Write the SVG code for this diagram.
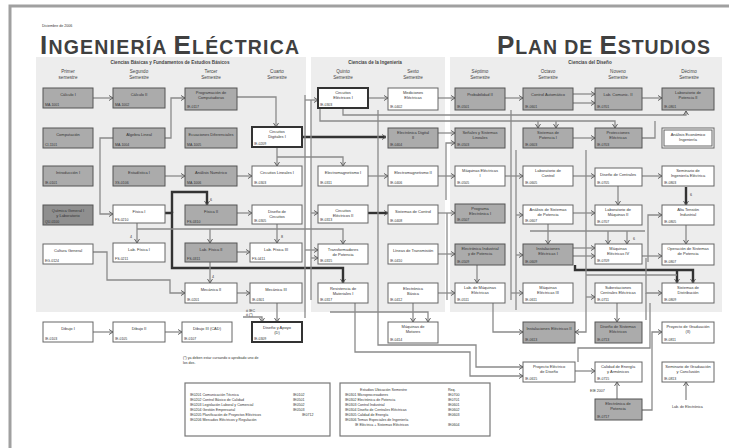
<svg xmlns="http://www.w3.org/2000/svg" width="729" height="448" viewBox="0 0 729 448">
<style>
.g rect{fill:#ababab;stroke:#555;stroke-width:1}
.w rect{fill:#fff;stroke:#666;stroke-width:1}
.k rect{fill:#fff;stroke:#333;stroke-width:2}
.tn{font-family:"Liberation Sans",Arial,sans-serif;font-size:4px;text-anchor:middle;fill:#333}
.tc{font-family:"Liberation Sans",Arial,sans-serif;font-size:3.5px;fill:#333}
.sh{font-family:"Liberation Sans",Arial,sans-serif;font-size:4.6px;text-anchor:middle;fill:#444}
.hd{font-family:"Liberation Sans",Arial,sans-serif;font-size:4.6px;font-weight:bold;text-anchor:middle;fill:#444}
.lg{font-family:"Liberation Sans",Arial,sans-serif;font-size:3.6px;fill:#333}
.c path{fill:none;stroke:#8a8a8a;stroke-width:1.3}
.c path.a{marker-end:url(#a)}
.c path.t{stroke:#333;stroke-width:2.4}
</style>
<defs>
<marker id="a" markerWidth="6" markerHeight="6" refX="5" refY="3" orient="auto" markerUnits="userSpaceOnUse"><path d="M1,0.5 L5,3 L1,5.5" fill="none" stroke="#555" stroke-width="0.9"/></marker>
</defs>
<rect x="0" y="0" width="729" height="448" fill="#fff"/>
<rect x="10" y="6" width="740" height="460" fill="#fff" stroke="#a0a0a0" stroke-width="3"/>
<rect x="36" y="57" width="270" height="255" fill="#ededed"/>
<rect x="311" y="57" width="134" height="255" fill="#ededed"/>
<rect x="450" y="57" width="272" height="255" fill="#ededed"/>
<text x="42" y="27" class="lg" font-size="4" fill="#444">Diciembre de 2006</text>
<text x="40" y="54" font-family="'Liberation Sans',Arial,sans-serif" font-weight="bold" fill="#404040" letter-spacing="1.2"><tspan font-size="26">I</tspan><tspan font-size="19.5">NGENIERÍA </tspan><tspan font-size="26">E</tspan><tspan font-size="19.5">LÉCTRICA</tspan></text>
<text x="497" y="54" font-family="'Liberation Sans',Arial,sans-serif" font-weight="bold" fill="#404040" letter-spacing="0.9"><tspan font-size="26">P</tspan><tspan font-size="19.5">LAN DE </tspan><tspan font-size="26">E</tspan><tspan font-size="19.5">STUDIOS</tspan></text>
<text x="170" y="63.5" class="hd">Ciencias Básicas y Fundamentos de Estudios Básicos</text>
<text x="375" y="63.5" class="hd">Ciencias de la Ingeniería</text>
<text x="590" y="63.5" class="hd">Ciencias del Diseño</text>
<g id="semestres">
<text x="68" y="73" class="sh">Primer<tspan x="68" dy="6">semestre</tspan></text>
<text x="139" y="73" class="sh">Segundo<tspan x="139" dy="6">Semestre</tspan></text>
<text x="211" y="73" class="sh">Tercer<tspan x="211" dy="6">Semestre</tspan></text>
<text x="277" y="73" class="sh">Cuarto<tspan x="277" dy="6">Semestre</tspan></text>
<text x="343" y="73" class="sh">Quinto<tspan x="343" dy="6">Semestre</tspan></text>
<text x="413" y="73" class="sh">Sexto<tspan x="413" dy="6">Semestre</tspan></text>
<text x="480" y="73" class="sh">Séptimo<tspan x="480" dy="6">Semestre</tspan></text>
<text x="548" y="73" class="sh">Octavo<tspan x="548" dy="6">Semestre</tspan></text>
<text x="618" y="73" class="sh">Noveno<tspan x="618" dy="6">Semestre</tspan></text>
<text x="689" y="73" class="sh">Décimo<tspan x="689" dy="6">Semestre</tspan></text>
</g>
<g id="connectors" class="c">
<path class="a" d="M93,98 H113"/>
<path class="a" d="M165,138 H171 V98 H185"/>
<path class="a" d="M237,97 H276 V127"/>
<path class="a" d="M113,138 H100 V214 H113"/>
<path class="a" d="M277,157 H343 V166"/>
<path class="a" d="M277,147 V166"/>
<path class="a" d="M165,176 H185"/>
<path class="a" d="M237,176 H252"/>
<path class="a" d="M368,98 H388"/>
<path class="a" d="M438,98 H455"/>
<path class="a" d="M505,98 H523"/>
<path class="a" d="M573,94 H595"/>
<path class="a" d="M573,103 H595"/>
<path class="a" d="M642,98 H662"/>
<path class="t a" d="M302,137 H386"/>
<path class="a" d="M438,133 H455"/>
<path class="a" d="M446,200 V143 H455"/>
<path class="a" d="M343,108 V115 H686 V111"/>
<path class="a" d="M320,108 V121 H615 V128"/>
<path class="a" d="M538,121 V128"/>
<path class="a" d="M556,121 V128"/>
<path class="a" d="M573,138 H595"/>
<path d="M642,138 H655 V121"/>
<path class="a" d="M368,176 H388"/>
<path class="a" d="M438,176 H455"/>
<path class="a" d="M505,176 H523"/>
<path class="a" d="M573,176 H595"/>
<path class="a" d="M642,176 H662"/>
<path class="a" d="M618,186 V205"/>
<path class="t a" d="M686,187 V205"/>
<path class="t a" d="M172,213 V192 H207 V205"/>
<path class="t a" d="M163,213 H172 V268 H343 V283"/>
<path class="a" d="M137,223 V243"/>
<path class="a" d="M137,229 H343 V244"/>
<path class="a" d="M210,229 V243"/>
<path class="a" d="M277,224 V243"/>
<path class="a" d="M237,213 H252"/>
<path class="t a" d="M368,213 H388"/>
<path class="a" d="M438,213 H455"/>
<path d="M447,213 V300"/>
<path class="a" d="M573,213 H595"/>
<path class="a" d="M648,262 V215 H662"/>
<path d="M530,231 H645"/>
<path class="a" d="M608,231 V244"/>
<path class="a" d="M627,231 V244"/>
<path class="a" d="M548,224 V244"/>
<path class="a" d="M686,225 V244"/>
<path class="a" d="M93,252 H107 V280 H170 V293 H185"/>
<path class="a" d="M237,252 H250"/>
<path class="a" d="M237,293 H250"/>
<path class="a" d="M210,262 V283"/>
<path d="M305,95 V318"/>
<path d="M311,100 V300"/>
<path class="a" d="M305,100 H318"/>
<path class="a" d="M305,250 H318"/>
<path class="a" d="M311,258 H318"/>
<path class="a" d="M311,213 H318"/>
<path class="a" d="M438,254 H455"/>
<path class="a" d="M477,265 V283"/>
<path class="a" d="M438,293 H455"/>
<path d="M511,110 V300"/>
<path d="M516,150 V310"/>
<path class="a" d="M516,215 H523"/>
<path class="a" d="M516,255 H523"/>
<path class="a" d="M511,293 H523"/>
<path class="a" d="M573,248 H595"/>
<path class="a" d="M573,256 H595"/>
<path class="a" d="M642,256 H662"/>
<path class="t a" d="M575,265 V270 H693 V283"/>
<path class="t a" d="M677,270 V283"/>
<path d="M586,275 H677"/>
<path class="a" d="M586,150 V332 H575"/>
<path class="a" d="M586,297 H595"/>
<path class="a" d="M646,258 V293 H662"/>
<path d="M646,293 V320"/>
<path class="a" d="M378,110 V345 H476 V367 H523"/>
<path class="a" d="M355,303 V352 H470 V376 H523"/>
<path class="a" d="M413,303 V322"/>
<path class="a" d="M330,312 H428 V322"/>
<path class="a" d="M493,303 V332 H523"/>
<path class="a" d="M617,303 V322"/>
<path d="M578,362 V348 H650 V303"/>
<path class="a" d="M575,371 H595"/>
<path class="a" d="M617,399 V382"/>
<path class="a" d="M642,410 H652 V332 H662"/>
<path class="a" d="M686,400 V382"/>
<path class="a" d="M93,332 H113"/>
<path class="a" d="M165,332 H182"/>
<path class="a" d="M277,303 V322"/>
<path class="a" d="M243,317 H262 V322"/>
</g>
<text x="246" y="312" class="lg">ó IEC</text>
<text x="246" y="316" class="lg">ó (*)</text>
<text x="212" y="278" class="lg" font-size="4">4</text>
<text x="281" y="238" class="lg" font-size="4">8</text>
<text x="210" y="201" class="lg" font-size="4">6</text>
<text x="690" y="196" class="lg" font-size="4">6</text>
<text x="633" y="240" class="lg" font-size="4">6</text>
<text x="130" y="238" class="lg" font-size="4">4</text>
<g id="c1r1" class="g"><rect x="43" y="88" width="50" height="20"/><text x="68" y="96" class="tn">Cálculo I</text><text x="45" y="106" class="tc">MA-1001</text></g>
<g id="c1r2" class="g"><rect x="43" y="128" width="50" height="20"/><text x="68" y="136" class="tn">Computación</text><text x="45" y="146" class="tc">CI-1101</text></g>
<g id="c1r3" class="g"><rect x="43" y="166" width="50" height="20"/><text x="68" y="174" class="tn">Introducción I</text><text x="45" y="184" class="tc">IE-0101</text></g>
<g id="c1r4" class="g"><rect x="43" y="205" width="50" height="20" style="fill:#8f8f8f"/><text x="68" y="212" class="tn">Química General I<tspan x="68" dy="4.5">y Laboratorio</tspan></text><text x="45" y="223" class="tc">QU-0100</text></g>
<g id="c1r5" class="w"><rect x="43" y="244" width="50" height="20"/><text x="68" y="252" class="tn">Cultura General</text><text x="45" y="262" class="tc">EG-0124</text></g>
<g id="c1r7" class="w"><rect x="43" y="322" width="50" height="20"/><text x="68" y="330" class="tn">Dibujo I</text><text x="45" y="340" class="tc">IE-0103</text></g>
<g id="c2r1" class="g"><rect x="113" y="88" width="52" height="20"/><text x="139" y="96" class="tn">Cálculo II</text><text x="115" y="106" class="tc">MA-1002</text></g>
<g id="c2r2" class="g"><rect x="113" y="128" width="52" height="20"/><text x="139" y="136" class="tn">Álgebra Lineal</text><text x="115" y="146" class="tc">MA-1004</text></g>
<g id="c2r3" class="g"><rect x="113" y="166" width="52" height="20"/><text x="139" y="174" class="tn">Estadística I</text><text x="115" y="184" class="tc">XS-0106</text></g>
<g id="c2r4" class="w"><rect x="113" y="205" width="52" height="18"/><text x="139" y="213" class="tn">Física I</text><text x="115" y="221" class="tc">FS-0210</text></g>
<g id="c2r5" class="w"><rect x="113" y="243" width="52" height="19"/><text x="139" y="251" class="tn">Lab. Física I</text><text x="115" y="260" class="tc">FS-0211</text></g>
<g id="c2r7" class="w"><rect x="113" y="322" width="52" height="20"/><text x="139" y="330" class="tn">Dibujo II</text><text x="115" y="340" class="tc">IE-0105</text></g>
<g id="c3r1" class="g"><rect x="185" y="88" width="52" height="22"/><text x="211" y="94" class="tn">Programación de<tspan x="211" dy="4.5">Computadoras</tspan></text><text x="187" y="108" class="tc">IE-0117</text></g>
<g id="c3r2" class="g"><rect x="185" y="128" width="52" height="20"/><text x="211" y="136" class="tn">Ecuaciones Diferenciales</text><text x="187" y="146" class="tc">MA-1005</text></g>
<g id="c3r3" class="g"><rect x="185" y="166" width="52" height="20"/><text x="211" y="174" class="tn">Análisis Numérico</text><text x="187" y="184" class="tc">MA-1006</text></g>
<g id="c3r4" class="g"><rect x="185" y="205" width="52" height="20"/><text x="211" y="213" class="tn">Física II</text><text x="187" y="223" class="tc">FS-0310</text></g>
<g id="c3r5" class="g"><rect x="185" y="243" width="52" height="19"/><text x="211" y="251" class="tn">Lab. Física II</text><text x="187" y="260" class="tc">FS-0311</text></g>
<g id="c3r6" class="w"><rect x="185" y="283" width="52" height="20"/><text x="211" y="291" class="tn">Mecánica II</text><text x="187" y="301" class="tc">IE-0201</text></g>
<g id="c3r7" class="w"><rect x="182" y="322" width="50" height="20"/><text x="207" y="330" class="tn">Dibujo III (CAD)</text><text x="184" y="340" class="tc">IE-0107</text></g>
<g id="c4r2" class="k"><rect x="252" y="127" width="50" height="20"/><text x="277" y="133" class="tn">Circuitos<tspan x="277" dy="4.5">Digitales I</tspan></text><text x="254" y="145" class="tc">IE-0209</text></g>
<g id="c4r3" class="w"><rect x="252" y="166" width="50" height="20"/><text x="277" y="174" class="tn">Circuitos Lineales I</text><text x="254" y="184" class="tc">IE-0303</text></g>
<g id="c4r4" class="w"><rect x="252" y="205" width="50" height="19"/><text x="277" y="213" class="tn">Diseño de<tspan x="277" dy="4.5">Circuitos</tspan></text><text x="254" y="222" class="tc">IE-0305</text></g>
<g id="c4r5" class="w"><rect x="250" y="243" width="52" height="19"/><text x="276" y="251" class="tn">Lab. Física III</text><text x="252" y="260" class="tc">FS-0411</text></g>
<g id="c4r6" class="w"><rect x="250" y="283" width="52" height="20"/><text x="276" y="291" class="tn">Mecánica III</text><text x="252" y="301" class="tc">IE-0301</text></g>
<g id="c4r7" class="k"><rect x="252" y="322" width="50" height="20"/><text x="277" y="329" class="tn">Diseño y Apoyo<tspan x="277" dy="4.5">(D)</tspan></text><text x="254" y="340" class="tc">IE-0309</text></g>
<g id="c5r1" class="k"><rect x="318" y="88" width="50" height="20"/><text x="343" y="94" class="tn">Circuitos<tspan x="343" dy="4.5">Eléctricos I</tspan></text><text x="320" y="106" class="tc">IE-0303</text></g>
<g id="c5r3" class="w"><rect x="318" y="166" width="50" height="20"/><text x="343" y="174" class="tn">Electromagnetismo I</text><text x="320" y="184" class="tc">IE-0311</text></g>
<g id="c5r4" class="w"><rect x="318" y="205" width="50" height="18"/><text x="343" y="212" class="tn">Circuitos<tspan x="343" dy="4.5">Eléctricos II</tspan></text><text x="320" y="221" class="tc">IE-0313</text></g>
<g id="c5r5" class="w"><rect x="318" y="244" width="50" height="20"/><text x="343" y="251" class="tn">Transformadores<tspan x="343" dy="4.5">de Potencia</tspan></text><text x="320" y="262" class="tc">IE-0315</text></g>
<g id="c5r6" class="w"><rect x="318" y="283" width="50" height="20"/><text x="343" y="290" class="tn">Resistencia de<tspan x="343" dy="4.5">Materiales I</tspan></text><text x="320" y="301" class="tc">IE-0317</text></g>
<g id="c6r1" class="w"><rect x="388" y="88" width="50" height="22"/><text x="413" y="94" class="tn">Mediciones<tspan x="413" dy="4.5">Eléctricas</tspan></text><text x="390" y="108" class="tc">IE-0402</text></g>
<g id="c6r2" class="g"><rect x="388" y="128" width="50" height="20"/><text x="413" y="134" class="tn">Electrónica Digital<tspan x="413" dy="4.5">II</tspan></text><text x="390" y="146" class="tc">IE-0404</text></g>
<g id="c6r3" class="w"><rect x="388" y="166" width="50" height="20"/><text x="413" y="174" class="tn">Electromagnetismo II</text><text x="390" y="184" class="tc">IE-0406</text></g>
<g id="c6r4" class="w"><rect x="388" y="205" width="50" height="19"/><text x="413" y="213" class="tn">Sistemas de Control</text><text x="390" y="222" class="tc">IE-0408</text></g>
<g id="c6r5" class="w"><rect x="388" y="244" width="50" height="20"/><text x="413" y="252" class="tn">Líneas de Transmisión</text><text x="390" y="262" class="tc">IE-0410</text></g>
<g id="c6r6" class="w"><rect x="388" y="283" width="50" height="20"/><text x="413" y="290" class="tn">Electrónica<tspan x="413" dy="4.5">Básica</tspan></text><text x="390" y="301" class="tc">IE-0412</text></g>
<g id="c6r7" class="w"><rect x="388" y="322" width="50" height="21"/><text x="413" y="328" class="tn">Máquinas de<tspan x="413" dy="4.5">Motores</tspan></text><text x="390" y="341" class="tc">IE-0414</text></g>
<g id="c7r1" class="g"><rect x="455" y="88" width="50" height="22"/><text x="480" y="96" class="tn">Probabilidad II</text><text x="457" y="108" class="tc">IE-0501</text></g>
<g id="c7r2" class="g"><rect x="455" y="128" width="50" height="20"/><text x="480" y="134" class="tn">Señales y Sistemas<tspan x="480" dy="4.5">Lineales</tspan></text><text x="457" y="146" class="tc">IE-0503</text></g>
<g id="c7r3" class="w"><rect x="455" y="166" width="50" height="20"/><text x="480" y="172" class="tn">Máquinas Eléctricas<tspan x="480" dy="4.5">I</tspan></text><text x="457" y="184" class="tc">IE-0505</text></g>
<g id="c7r4" class="g"><rect x="455" y="204" width="50" height="19"/><text x="480" y="210" class="tn">Programa<tspan x="480" dy="4.5">Electrónica I</tspan></text><text x="457" y="221" class="tc">IE-0507</text></g>
<g id="c7r5" class="g"><rect x="455" y="244" width="50" height="21"/><text x="480" y="250" class="tn">Electrónica Industrial<tspan x="480" dy="4.5">y de Potencia</tspan></text><text x="457" y="263" class="tc">IE-0509</text></g>
<g id="c7r6" class="w"><rect x="455" y="283" width="50" height="20"/><text x="480" y="289" class="tn">Lab. de Máquinas<tspan x="480" dy="4.5">Eléctricas</tspan></text><text x="457" y="301" class="tc">IE-0511</text></g>
<g id="c8r1" class="g"><rect x="523" y="88" width="50" height="22"/><text x="548" y="96" class="tn">Control Automático</text><text x="525" y="108" class="tc">IE-0601</text></g>
<g id="c8r2" class="g"><rect x="523" y="128" width="50" height="20"/><text x="548" y="134" class="tn">Sistemas de<tspan x="548" dy="4.5">Potencia I</tspan></text><text x="525" y="146" class="tc">IE-0603</text></g>
<g id="c8r3" class="w"><rect x="523" y="166" width="50" height="20"/><text x="548" y="172" class="tn">Laboratorio de<tspan x="548" dy="4.5">Control</tspan></text><text x="525" y="184" class="tc">IE-0605</text></g>
<g id="c8r4" class="w"><rect x="523" y="205" width="50" height="19"/><text x="548" y="211" class="tn">Análisis de Sistemas<tspan x="548" dy="4.5">de Potencia</tspan></text><text x="525" y="222" class="tc">IE-0607</text></g>
<g id="c8r5" class="g"><rect x="523" y="244" width="50" height="21"/><text x="548" y="250" class="tn">Instalaciones<tspan x="548" dy="4.5">Eléctricas I</tspan></text><text x="525" y="263" class="tc">IE-0609</text></g>
<g id="c8r6" class="w"><rect x="523" y="283" width="50" height="20"/><text x="548" y="289" class="tn">Máquinas<tspan x="548" dy="4.5">Eléctricas III</tspan></text><text x="525" y="301" class="tc">IE-0611</text></g>
<g id="c8r7" class="g"><rect x="523" y="322" width="52" height="21"/><text x="549" y="330" class="tn">Instalaciones Eléctricas II</text><text x="525" y="341" class="tc">IE-0613</text></g>
<g id="c8r8" class="w"><rect x="523" y="362" width="52" height="20"/><text x="549" y="368" class="tn">Proyecto Eléctrico<tspan x="549" dy="4.5">de Diseño</tspan></text><text x="525" y="380" class="tc">IE-0615</text></g>
<g id="c9r1" class="g"><rect x="595" y="88" width="47" height="22"/><text x="618" y="96" class="tn">Lab. Comunic. II</text><text x="597" y="108" class="tc">IE-0701</text></g>
<g id="c9r2" class="g"><rect x="595" y="128" width="47" height="20"/><text x="618" y="134" class="tn">Protecciones<tspan x="618" dy="4.5">Eléctricas</tspan></text><text x="597" y="146" class="tc">IE-0703</text></g>
<g id="c9r3" class="w"><rect x="595" y="168" width="47" height="18"/><text x="618" y="176" class="tn">Diseño de Centrales</text><text x="597" y="184" class="tc">IE-0705</text></g>
<g id="c9r4" class="w"><rect x="595" y="205" width="47" height="20"/><text x="618" y="211" class="tn">Laboratorio de<tspan x="618" dy="4.5">Máquinas II</tspan></text><text x="597" y="223" class="tc">IE-0707</text></g>
<g id="c9r5" class="w"><rect x="595" y="244" width="47" height="20"/><text x="618" y="250" class="tn">Máquinas<tspan x="618" dy="4.5">Eléctricas IV</tspan></text><text x="597" y="262" class="tc">IE-0709</text></g>
<g id="c9r6" class="w"><rect x="595" y="283" width="47" height="20"/><text x="618" y="289" class="tn">Subestaciones<tspan x="618" dy="4.5">Centrales Eléctricas</tspan></text><text x="597" y="301" class="tc">IE-0711</text></g>
<g id="c9r7" class="g"><rect x="595" y="322" width="47" height="21"/><text x="618" y="328" class="tn">Diseño de Sistemas<tspan x="618" dy="4.5">Eléctricos</tspan></text><text x="597" y="341" class="tc">IE-0713</text></g>
<g id="c9r8" class="w"><rect x="595" y="362" width="47" height="20"/><text x="618" y="368" class="tn">Calidad de Energía<tspan x="618" dy="4.5">y Armónicos</tspan></text><text x="597" y="380" class="tc">IE-0715</text></g>
<g id="c9r9" class="g"><rect x="595" y="399" width="47" height="21"/><text x="618" y="405" class="tn">Electrónica de<tspan x="618" dy="4.5">Potencia</tspan></text><text x="597" y="418" class="tc">IE-0717</text></g>
<g id="c10r1" class="g"><rect x="662" y="88" width="52" height="22"/><text x="688" y="94" class="tn">Laboratorio de<tspan x="688" dy="4.5">Potencia II</tspan></text><text x="664" y="108" class="tc">IE-0801</text></g>
<g id="c10r2" class="w"><rect x="662" y="128" width="52" height="20"/><rect x="664" y="130" width="48" height="16" style="fill:none"/><text x="688" y="136" class="tn">Análisis Económico</text><text x="688" y="141" class="tn">Ingeniería</text></g>
<g id="c10r3" class="w"><rect x="662" y="166" width="52" height="20"/><text x="688" y="172" class="tn">Seminario de<tspan x="688" dy="4.5">Ingeniería Eléctrica</tspan></text><text x="664" y="184" class="tc">IE-0803</text></g>
<g id="c10r4" class="w"><rect x="662" y="205" width="52" height="20"/><text x="688" y="211" class="tn">Alta Tensión<tspan x="688" dy="4.5">Industrial</tspan></text><text x="664" y="223" class="tc">IE-0805</text></g>
<g id="c10r5" class="w"><rect x="662" y="244" width="52" height="21"/><text x="688" y="250" class="tn">Operación de Sistemas<tspan x="688" dy="4.5">de Potencia</tspan></text><text x="664" y="263" class="tc">IE-0807</text></g>
<g id="c10r6" class="w"><rect x="662" y="283" width="52" height="20"/><text x="688" y="289" class="tn">Sistemas de<tspan x="688" dy="4.5">Distribución</tspan></text><text x="664" y="301" class="tc">IE-0809</text></g>
<g id="c10r7" class="w"><rect x="662" y="322" width="52" height="21"/><text x="688" y="328" class="tn">Proyecto de Graduación<tspan x="688" dy="4.5">(II)</tspan></text><text x="664" y="341" class="tc">IE-0811</text></g>
<g id="c10r8" class="w"><rect x="662" y="362" width="52" height="20"/><text x="688" y="368" class="tn">Seminario de Graduación<tspan x="688" dy="4.5">y Conclusión</tspan></text><text x="664" y="380" class="tc">IE-0813</text></g>
<text x="590" y="392" class="lg">EIE 2007</text>
<text x="672" y="408" class="lg">Lab. de Electrónica</text>
<text x="183" y="359" class="lg">(*) ya deben estar cursando o aprobado uno de</text>
<text x="183" y="364" class="lg">los dos.</text>
<g id="legend1"><rect x="185" y="383" width="145" height="53" fill="#fff" stroke="#777" stroke-width="1.2"/>
<text x="190" y="396" class="lg">IE0201   Comunicación Técnica</text><text x="293" y="396" class="lg">IE0102</text>
<text x="190" y="401" class="lg">IE0202   Control Básico de Calidad</text><text x="293" y="401" class="lg">IE0501</text>
<text x="190" y="406" class="lg">IE0203   Legislación Laboral y Comercial</text><text x="293" y="406" class="lg">IE0502</text>
<text x="190" y="411" class="lg">IE0204   Gestión Empresarial</text><text x="293" y="411" class="lg">IE0503</text>
<text x="190" y="416" class="lg">IE0205   Planificación de Proyectos Eléctricos</text><text x="302" y="416" class="lg">IE0712</text>
<text x="190" y="421" class="lg">IE0206   Mercados Eléctricos y Regulación</text>
</g>
<g id="legend2"><rect x="340" y="383" width="150" height="53" fill="#fff" stroke="#777" stroke-width="1.2"/>
<text x="360" y="391" class="lg">Estudios Ubicación Semestre</text><text x="448" y="391" class="lg">Req.</text>
<text x="345" y="396" class="lg">IE0301 Microprocesadores</text><text x="448" y="396" class="lg">IE0700</text>
<text x="345" y="401" class="lg">IE0302 Electrónica de Potencia</text><text x="448" y="401" class="lg">IE0701</text>
<text x="345" y="406" class="lg">IE0303 Control Industrial</text><text x="448" y="406" class="lg">IE0601</text>
<text x="345" y="411" class="lg">IE0304 Diseño de Centrales Eléctricas</text><text x="448" y="411" class="lg">IE0602</text>
<text x="345" y="416" class="lg">IE0305 Calidad de Energía</text><text x="448" y="416" class="lg">IE0603</text>
<text x="345" y="421" class="lg">IE0306 Temas Especiales de Ingeniería</text>
<text x="355" y="426" class="lg">IE Eléctrica + Sistemas Eléctricos</text><text x="448" y="426" class="lg">IE0604</text>
</g>
</svg>
